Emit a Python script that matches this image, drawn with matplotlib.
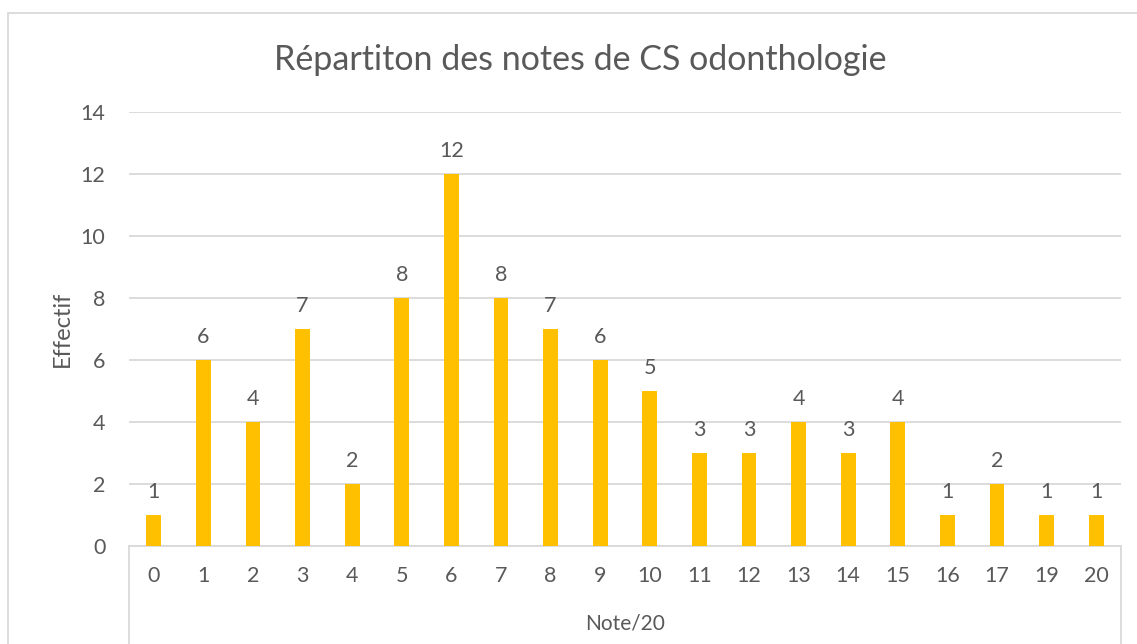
import numpy as np
import matplotlib
matplotlib.use('Agg')
import matplotlib.pyplot as plt
from matplotlib.patches import Rectangle
from matplotlib.lines import Line2D

# data
notes = ['0', '1', '2', '3', '4', '5', '6', '7', '8', '9', '10',
         '11', '12', '13', '14', '15', '16', '17', '19', '20']
effectif = [1, 6, 4, 7, 2, 8, 12, 8, 7, 6, 5, 3, 3, 4, 3, 4, 1, 2, 1, 1]
y_ticks = [0, 2, 4, 6, 8, 10, 12, 14]

TXT = '#595959'
GRID = '#D9D9D9'
BAR = '#FFC000'
W, H = 1137, 644

plt.rcParams['font.family'] = ['Lato', 'DejaVu Sans']

fig = plt.figure(figsize=(W / 100, H / 100), dpi=100)
fig.patch.set_facecolor('white')

# outer chart border (cut off at right and bottom)
fig.patches.append(Rectangle((8 / W, -0.1), 1.2, (H - 13) / H + 0.1,
                             transform=fig.transFigure, fill=False,
                             edgecolor=GRID, linewidth=1.3))

x0, x1 = 129 / W, 1121 / W
y0, y1 = (H - 545.5) / H, (H - 112) / H
ax = fig.add_axes([x0, y0, x1 - x0, y1 - y0])

x = np.arange(len(notes))
bars = ax.bar(x, effectif, width=0.3, color=BAR, edgecolor='none', zorder=3)
ax.set_xlim(-0.5, len(notes) - 0.5)
ax.set_ylim(0, 14)
ax.set_yticks(y_ticks)
ax.set_yticklabels([str(v) for v in y_ticks])
ax.yaxis.grid(True, color=GRID, linewidth=1.3, zorder=0)
ax.tick_params(axis='y', length=0, pad=17, labelsize=15.5, labelcolor=TXT)
ax.tick_params(axis='x', length=0, pad=15, labelsize=15.5, labelcolor=TXT)
ax.set_xticks(x)
ax.set_xticklabels(notes)
for s in ['top', 'right', 'left']:
    ax.spines[s].set_visible(False)
ax.spines['bottom'].set_color(GRID)
ax.spines['bottom'].set_linewidth(1.3)

for b, v in zip(bars, effectif):
    ax.annotate(str(v), (b.get_x() + b.get_width() / 2, v),
                xytext=(0, 17), textcoords='offset pixels',
                ha='center', va='baseline', fontsize=15.5, color=TXT)

# category box vertical lines
for xp in (x0, x1):
    fig.add_artist(Line2D([xp, xp], [0, y0], transform=fig.transFigure,
                          color=GRID, linewidth=1.3))

fig.text((x0 + x1) / 2, (H - 624) / H, 'Note/20', ha='center', va='center',
         fontsize=15, color=TXT)
fig.text(62 / W, (H - 329) / H, 'Effectif', ha='center', va='center',
         rotation=90, fontsize=17, color=TXT)
fig.text((x0 + x1) / 2 - 45 / W, (H - 60) / H,
         'Répartiton des notes de CS odonthologie',
         ha='center', va='center', fontsize=24.5, color=TXT)

plt.savefig('out.png', dpi=100, facecolor='white')
plt.close()
